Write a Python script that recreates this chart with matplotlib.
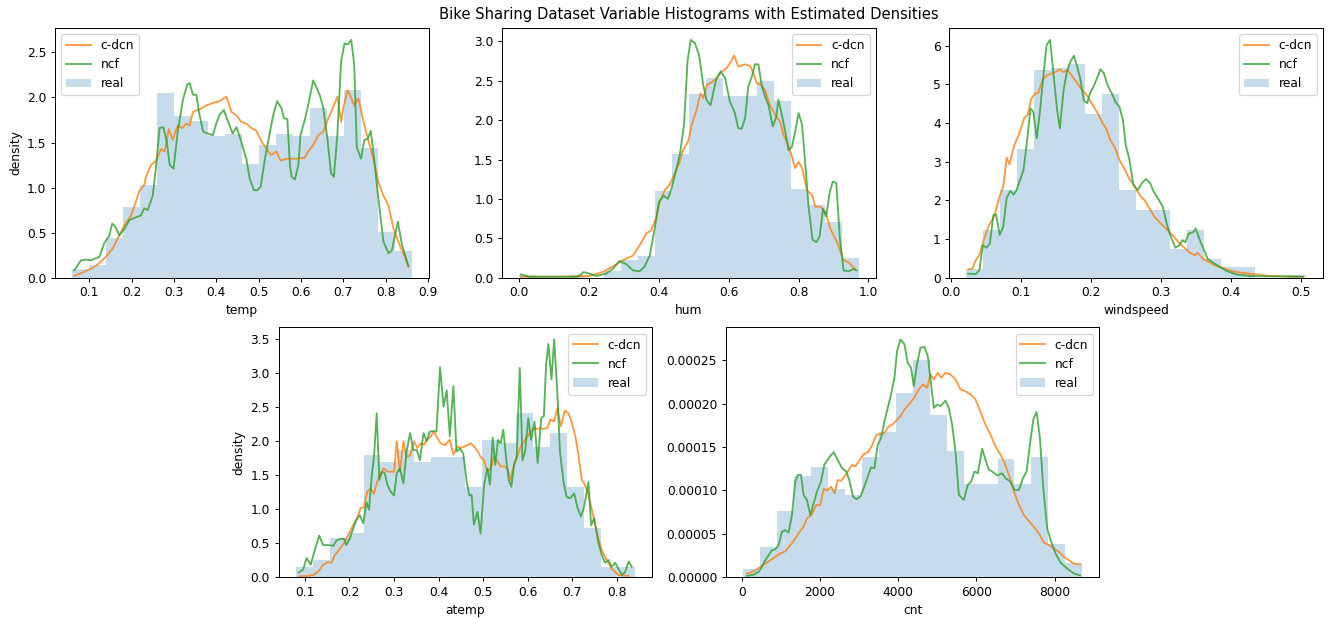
import numpy as np
import matplotlib
matplotlib.use("Agg")
import matplotlib.pyplot as plt
from matplotlib.gridspec import GridSpec

n_bins = 20

# ---- temp ----
temp_range = (0.0591, 0.8617)
temp_real = [0.10, 0.14, 0.44, 0.78, 1.03, 2.05, 1.80, 1.74, 1.57, 1.60,
             1.26, 1.47, 1.60, 1.57, 1.88, 1.57, 2.08, 1.44, 0.51, 0.30]
temp_cdcn_x = [0.0645, 0.084, 0.108, 0.124, 0.139, 0.155, 0.171, 0.183, 0.199, 0.207,
               0.218, 0.230, 0.234, 0.246, 0.258, 0.270, 0.278, 0.288, 0.297, 0.309,
               0.320, 0.329, 0.337, 0.345, 0.361, 0.376, 0.392, 0.408, 0.424, 0.436,
               0.448, 0.459, 0.471, 0.483, 0.495, 0.507, 0.523, 0.530, 0.542, 0.552,
               0.566, 0.590, 0.609, 0.617, 0.629, 0.641, 0.653, 0.665, 0.677, 0.686,
               0.695, 0.700, 0.710, 0.716, 0.726, 0.736, 0.748, 0.760, 0.771, 0.783,
               0.795, 0.807, 0.819, 0.835, 0.844, 0.854]
temp_cdcn_y = [0.02, 0.055, 0.107, 0.16, 0.23, 0.32, 0.47, 0.58, 0.69, 0.80,
               0.96, 1.03, 1.12, 1.25, 1.30, 1.43, 1.40, 1.65, 1.53, 1.69,
               1.66, 1.71, 1.69, 1.84, 1.87, 1.91, 1.94, 1.96, 2.01, 1.84,
               1.80, 1.73, 1.71, 1.66, 1.63, 1.51, 1.40, 1.36, 1.40, 1.30,
               1.32, 1.32, 1.33, 1.40, 1.47, 1.58, 1.62, 1.77, 1.90, 2.01,
               1.73, 1.88, 2.08, 2.03, 1.91, 1.99, 1.73, 1.51, 1.32, 1.06,
               0.91, 0.80, 0.54, 0.34, 0.25, 0.12]
temp_ncf_x = [0.0645, 0.080, 0.092, 0.104, 0.112, 0.124, 0.136, 0.147, 0.154, 0.162,
              0.171, 0.183, 0.195, 0.211, 0.222, 0.230, 0.238, 0.250, 0.258, 0.266,
              0.275, 0.283, 0.290, 0.299, 0.309, 0.321, 0.331, 0.337, 0.345, 0.353,
              0.359, 0.369, 0.392, 0.400, 0.408, 0.418, 0.428, 0.439, 0.448, 0.459,
              0.471, 0.479, 0.489, 0.497, 0.505, 0.515, 0.527, 0.534, 0.544, 0.554,
              0.560, 0.568, 0.574, 0.578, 0.586, 0.594, 0.599, 0.609, 0.617, 0.629,
              0.636, 0.645, 0.653, 0.663, 0.671, 0.678, 0.686, 0.695, 0.703, 0.711,
              0.719, 0.726, 0.732, 0.742, 0.750, 0.758, 0.765, 0.773, 0.783, 0.795,
              0.807, 0.815, 0.829, 0.839, 0.854]
temp_ncf_y = [0.08, 0.19, 0.20, 0.19, 0.21, 0.23, 0.39, 0.46, 0.60, 0.56,
              0.47, 0.54, 0.64, 0.67, 0.69, 0.77, 0.75, 0.91, 1.25, 1.66,
              1.67, 1.51, 1.25, 1.21, 1.62, 1.97, 2.14, 2.16, 2.03, 2.03,
              1.84, 1.62, 1.58, 1.71, 1.81, 1.86, 1.73, 1.60, 1.67, 1.51,
              1.32, 1.10, 0.97, 0.97, 1.01, 1.32, 1.62, 1.79, 1.96, 1.88,
              1.77, 1.76, 1.25, 1.12, 1.09, 1.25, 1.58, 1.75, 1.91, 2.19,
              2.12, 2.02, 1.88, 1.53, 1.16, 1.12, 1.58, 2.40, 2.60, 2.59,
              2.64, 2.36, 1.45, 1.32, 1.53, 1.54, 1.63, 1.32, 0.88, 0.40,
              0.27, 0.30, 0.62, 0.36, 0.13]

# ---- hum ----
hum_range = (0.0, 0.9725)
hum_real = [0.028, 0.0, 0.0, 0.028, 0.0, 0.084, 0.22, 0.28, 1.10, 1.57,
            2.33, 2.54, 2.31, 2.31, 2.50, 2.24, 1.12, 0.92, 0.71, 0.25]
hum_cdcn_x = [0.005, 0.105, 0.201, 0.239, 0.268, 0.297, 0.326, 0.345, 0.364, 0.378,
              0.393, 0.402, 0.417, 0.431, 0.445, 0.460, 0.469, 0.484, 0.494, 0.508,
              0.519, 0.527, 0.538, 0.551, 0.565, 0.580, 0.594, 0.603, 0.616, 0.627,
              0.647, 0.661, 0.672, 0.680, 0.692, 0.704, 0.718, 0.733, 0.747, 0.757,
              0.768, 0.781, 0.790, 0.800, 0.810, 0.824, 0.838, 0.848, 0.862, 0.876,
              0.891, 0.910, 0.929, 0.944, 0.963]
hum_cdcn_y = [0.01, 0.01, 0.02, 0.07, 0.14, 0.22, 0.28, 0.41, 0.56, 0.60,
              0.77, 0.96, 1.11, 1.18, 1.32, 1.47, 1.62, 1.73, 1.94, 2.13,
              2.34, 2.28, 2.45, 2.48, 2.53, 2.62, 2.66, 2.72, 2.82, 2.68,
              2.71, 2.69, 2.58, 2.47, 2.45, 2.38, 2.19, 2.07, 1.98, 1.81,
              1.71, 1.54, 1.39, 1.47, 1.39, 1.11, 1.05, 0.90, 0.90, 0.84,
              0.62, 0.45, 0.22, 0.19, 0.10]
hum_ncf_x = [0.005, 0.029, 0.105, 0.168, 0.185, 0.201, 0.220, 0.249, 0.268, 0.287,
             0.307, 0.326, 0.345, 0.359, 0.374, 0.388, 0.400, 0.414, 0.426, 0.436,
             0.448, 0.460, 0.472, 0.482, 0.491, 0.503, 0.515, 0.527, 0.536, 0.548,
             0.557, 0.565, 0.577, 0.590, 0.603, 0.617, 0.627, 0.637, 0.647, 0.656,
             0.666, 0.675, 0.685, 0.694, 0.704, 0.714, 0.726, 0.736, 0.742, 0.752,
             0.762, 0.771, 0.781, 0.790, 0.800, 0.810, 0.819, 0.829, 0.840, 0.851,
             0.860, 0.870, 0.879, 0.889, 0.898, 0.908, 0.918, 0.929, 0.944, 0.956,
             0.966]
hum_ncf_y = [0.04, 0.01, 0.01, 0.01, 0.07, 0.05, 0.02, 0.05, 0.11, 0.21,
             0.17, 0.09, 0.08, 0.14, 0.28, 0.62, 0.96, 1.04, 1.00, 1.13,
             1.34, 1.56, 1.94, 2.75, 3.02, 2.98, 2.83, 2.45, 2.26, 2.19,
             2.38, 2.53, 2.62, 2.53, 2.24, 2.10, 1.90, 1.89, 2.03, 2.43,
             2.55, 2.71, 2.71, 2.45, 2.30, 2.19, 1.92, 2.04, 2.26, 2.07,
             1.85, 1.62, 1.66, 1.85, 2.09, 1.94, 1.45, 0.88, 0.48, 0.45,
             0.52, 0.87, 0.78, 1.08, 1.22, 1.20, 0.50, 0.09, 0.08, 0.11,
             0.09]

# ---- windspeed ----
wind_range = (0.0224, 0.5075)
wind_real = [0.21, 1.23, 2.26, 3.32, 5.37, 5.41, 5.53, 4.23, 4.75, 2.26,
             1.74, 1.74, 0.73, 1.23, 0.49, 0.27, 0.27, 0.0, 0.0, 0.056]
wind_cdcn_x = [0.0253, 0.031, 0.036, 0.041, 0.048, 0.055, 0.062, 0.069, 0.075, 0.080,
               0.084, 0.091, 0.098, 0.105, 0.110, 0.115, 0.121, 0.125, 0.131, 0.138,
               0.148, 0.156, 0.161, 0.167, 0.174, 0.181, 0.188, 0.196, 0.203, 0.210,
               0.217, 0.222, 0.228, 0.234, 0.241, 0.248, 0.255, 0.262, 0.270, 0.277,
               0.284, 0.291, 0.298, 0.305, 0.313, 0.320, 0.327, 0.334, 0.341, 0.348,
               0.353, 0.360, 0.370, 0.379, 0.389, 0.403, 0.417, 0.437, 0.456, 0.475,
               0.503]
wind_cdcn_y = [0.21, 0.23, 0.45, 0.58, 1.01, 1.36, 1.57, 2.05, 2.35, 3.10,
               2.93, 3.43, 3.73, 4.12, 4.21, 4.62, 4.77, 4.77, 5.11, 5.24,
               5.30, 5.39, 5.31, 5.37, 5.20, 5.03, 4.85, 4.68, 4.46, 4.25,
               3.99, 3.86, 3.56, 3.39, 3.04, 2.82, 2.56, 2.39, 2.13, 2.00,
               1.79, 1.57, 1.44, 1.31, 1.17, 1.03, 0.88, 0.77, 0.65, 0.58,
               0.64, 0.49, 0.39, 0.30, 0.25, 0.16, 0.12, 0.08, 0.04, 0.03,
               0.02]
wind_ncf_x = [0.025, 0.036, 0.041, 0.046, 0.051, 0.056, 0.061, 0.065, 0.070, 0.075,
              0.080, 0.085, 0.090, 0.094, 0.099, 0.104, 0.109, 0.114, 0.118, 0.123,
              0.128, 0.133, 0.137, 0.142, 0.147, 0.152, 0.156, 0.161, 0.166, 0.171,
              0.176, 0.180, 0.185, 0.190, 0.195, 0.199, 0.204, 0.209, 0.214, 0.219,
              0.224, 0.230, 0.236, 0.241, 0.246, 0.250, 0.255, 0.261, 0.267, 0.273,
              0.279, 0.285, 0.290, 0.296, 0.303, 0.309, 0.315, 0.321, 0.327, 0.331,
              0.335, 0.340, 0.346, 0.350, 0.355, 0.361, 0.367, 0.375, 0.384, 0.394,
              0.408, 0.427, 0.451, 0.475, 0.503]
wind_ncf_y = [0.10, 0.09, 0.19, 0.84, 0.77, 0.88, 1.61, 1.63, 1.10, 1.31,
              2.06, 2.24, 2.15, 2.26, 2.52, 2.78, 3.51, 4.38, 4.29, 3.60,
              4.38, 5.33, 6.02, 6.15, 5.24, 4.34, 3.86, 4.81, 5.33, 5.59,
              5.74, 5.50, 5.16, 4.59, 4.51, 4.77, 4.94, 5.16, 5.39, 5.28,
              4.98, 4.77, 4.53, 4.42, 4.08, 3.43, 3.08, 2.39, 2.26, 2.44,
              2.55, 2.44, 2.22, 2.05, 1.83, 1.36, 1.03, 0.77, 0.84, 0.97,
              0.91, 1.14, 1.17, 1.27, 1.01, 0.75, 0.49, 0.38, 0.28, 0.17,
              0.08, 0.04, 0.03, 0.03, 0.02]

# ---- atemp ----
atemp_range = (0.0791, 0.8409)
atemp_real = [0.14, 0.25, 0.58, 0.65, 1.80, 1.70, 1.87, 1.70, 1.77, 1.77,
              1.33, 2.02, 1.98, 2.42, 1.91, 2.12, 1.33, 0.72, 0.14, 0.14]
atemp_cdcn_x = [0.087, 0.104, 0.119, 0.130, 0.141, 0.152, 0.160, 0.167, 0.179, 0.190,
                0.201, 0.208, 0.217, 0.225, 0.232, 0.240, 0.247, 0.255, 0.262, 0.270,
                0.277, 0.285, 0.292, 0.300, 0.306, 0.313, 0.321, 0.328, 0.336, 0.345,
                0.352, 0.360, 0.367, 0.374, 0.382, 0.389, 0.397, 0.404, 0.414, 0.425,
                0.433, 0.442, 0.449, 0.457, 0.464, 0.472, 0.479, 0.487, 0.494, 0.502,
                0.509, 0.517, 0.524, 0.532, 0.539, 0.547, 0.554, 0.561, 0.569, 0.576,
                0.584, 0.591, 0.599, 0.606, 0.614, 0.621, 0.629, 0.636, 0.644, 0.651,
                0.659, 0.666, 0.674, 0.683, 0.691, 0.698, 0.706, 0.713, 0.721, 0.728,
                0.736, 0.743, 0.751, 0.758, 0.766, 0.777, 0.788, 0.803, 0.826]
atemp_cdcn_y = [0.01, 0.015, 0.03, 0.08, 0.18, 0.22, 0.21, 0.32, 0.42, 0.52,
                0.67, 0.76, 0.86, 1.02, 1.02, 1.26, 1.30, 1.23, 1.40, 1.53,
                1.60, 1.55, 1.55, 1.55, 2.00, 1.55, 2.00, 1.77, 1.79, 2.00,
                1.90, 1.97, 1.95, 2.02, 2.07, 2.14, 2.05, 1.97, 1.94, 2.02,
                1.80, 1.92, 1.90, 1.92, 1.94, 1.97, 1.92, 1.86, 1.77, 1.72,
                1.55, 1.60, 1.77, 1.70, 1.63, 1.63, 1.60, 1.43, 1.65, 1.77,
                1.92, 1.99, 2.07, 2.14, 2.19, 2.18, 2.19, 2.18, 2.20, 2.32,
                2.29, 2.48, 2.22, 2.45, 2.41, 2.29, 2.09, 1.82, 1.43, 1.36,
                1.21, 1.01, 0.76, 0.57, 0.39, 0.25, 0.12, 0.03, 0.015]
atemp_ncf_x = [0.087, 0.096, 0.104, 0.113, 0.121, 0.132, 0.141, 0.152, 0.164, 0.171,
               0.180, 0.188, 0.193, 0.201, 0.208, 0.216, 0.223, 0.231, 0.238, 0.244,
               0.250, 0.255, 0.261, 0.267, 0.273, 0.279, 0.285, 0.292, 0.300, 0.306,
               0.313, 0.321, 0.328, 0.336, 0.343, 0.351, 0.358, 0.366, 0.373, 0.380,
               0.388, 0.395, 0.403, 0.411, 0.418, 0.425, 0.433, 0.440, 0.448, 0.455,
               0.463, 0.469, 0.474, 0.479, 0.487, 0.494, 0.502, 0.509, 0.515, 0.521,
               0.527, 0.533, 0.539, 0.545, 0.551, 0.557, 0.563, 0.569, 0.575, 0.582,
               0.588, 0.594, 0.601, 0.607, 0.615, 0.622, 0.630, 0.636, 0.641, 0.646,
               0.653, 0.659, 0.666, 0.672, 0.680, 0.687, 0.695, 0.704, 0.711, 0.719,
               0.726, 0.736, 0.742, 0.749, 0.757, 0.766, 0.773, 0.781, 0.788, 0.796,
               0.803, 0.811, 0.818, 0.826, 0.833]
atemp_ncf_y = [0.07, 0.11, 0.28, 0.18, 0.37, 0.61, 0.47, 0.47, 0.46, 0.54,
               0.56, 0.56, 0.47, 0.57, 0.71, 0.85, 0.91, 0.79, 1.10, 0.99,
               1.50, 1.77, 2.41, 1.43, 1.55, 1.53, 1.36, 1.26, 1.20, 1.53,
               1.60, 1.38, 1.85, 2.12, 1.87, 1.87, 1.72, 2.12, 2.00, 2.14,
               2.15, 2.14, 3.09, 2.51, 2.75, 2.07, 2.81, 1.85, 1.89, 1.82,
               1.40, 1.20, 1.21, 0.77, 0.96, 0.64, 1.36, 1.60, 1.36, 2.05,
               1.65, 2.02, 1.97, 2.17, 1.77, 1.43, 1.33, 1.65, 1.77, 3.08,
               1.72, 1.85, 2.34, 2.02, 2.29, 1.68, 2.34, 2.37, 3.13, 3.43,
               2.91, 3.50, 2.74, 1.85, 1.40, 1.18, 1.16, 1.23, 1.03, 0.89,
               1.03, 1.40, 0.76, 0.87, 0.54, 0.32, 0.21, 0.25, 0.15, 0.21,
               0.12, 0.03, 0.07, 0.23, 0.15]

# ---- cnt ----
cnt_range = (22, 8714)
cnt_real = [0.0000097, 0.0000348, 0.0000761, 0.000117, 0.000127, 0.000102, 0.0000947,
            0.000139, 0.000167, 0.000212, 0.000250, 0.000187, 0.000146, 0.000107,
            0.000107, 0.000136, 0.000107, 0.000139, 0.0000379, 0.0000158]
cnt_cdcn_x = [128, 299, 470, 640, 811, 982, 1110, 1238, 1366, 1477,
              1580, 1665, 1793, 1904, 2007, 2092, 2178, 2280, 2374, 2451,
              2536, 2622, 2707, 2818, 2904, 3015, 3117, 3220, 3331, 3442,
              3544, 3647, 3758, 3869, 3971, 4057, 4159, 4270, 4398, 4526,
              4637, 4740, 4825, 4911, 5013, 5098, 5209, 5338, 5466, 5594,
              5722, 5850, 5978, 6106, 6234, 6362, 6491, 6619, 6721, 6832,
              6960, 7088, 7216, 7344, 7473, 7601, 7729, 7857, 7985, 8113,
              8241, 8369, 8497, 8651]
cnt_cdcn_y = [3.9e-6, 6.6e-6, 1.16e-5, 1.66e-5, 2.20e-5, 2.70e-5, 2.98e-5, 3.67e-5, 4.44e-5, 5.22e-5,
              5.80e-5, 6.76e-5, 7.23e-5, 8.31e-5, 8.31e-5, 1.016e-4, 9.97e-5, 1.043e-4, 9.66e-5, 1.12e-4,
              1.109e-4, 1.159e-4, 1.217e-4, 1.294e-4, 1.275e-4, 1.352e-4, 1.418e-4, 1.437e-4, 1.519e-4, 1.642e-4,
              1.650e-4, 1.662e-4, 1.739e-4, 1.766e-4, 1.816e-4, 1.855e-4, 1.932e-4, 1.990e-4, 2.060e-4, 2.164e-4,
              2.222e-4, 2.183e-4, 2.338e-4, 2.280e-4, 2.357e-4, 2.299e-4, 2.357e-4, 2.338e-4, 2.280e-4, 2.164e-4,
              2.144e-4, 2.106e-4, 2.048e-4, 1.905e-4, 1.758e-4, 1.642e-4, 1.507e-4, 1.410e-4, 1.314e-4, 1.179e-4,
              9.85e-5, 8.31e-5, 7.15e-5, 6.45e-5, 5.80e-5, 5.02e-5, 3.98e-5, 3.67e-5, 3.28e-5, 2.90e-5,
              2.32e-5, 1.93e-5, 1.55e-5, 1.43e-5]
cnt_ncf_x = [128, 299, 427, 512, 598, 683, 769, 854, 939, 1025,
             1110, 1196, 1281, 1366, 1435, 1512, 1580, 1665, 1751, 1836,
             1921, 2024, 2109, 2220, 2348, 2451, 2562, 2673, 2759, 2844,
             2929, 3032, 3134, 3220, 3305, 3390, 3476, 3561, 3647, 3732,
             3817, 3903, 3971, 4057, 4159, 4244, 4330, 4398, 4484, 4569,
             4671, 4757, 4842, 4911, 4996, 5081, 5209, 5295, 5380, 5466,
             5551, 5679, 5782, 5867, 5952, 6038, 6149, 6234, 6320, 6405,
             6533, 6661, 6746, 6875, 6977, 7088, 7199, 7284, 7370, 7455,
             7541, 7626, 7712, 7814, 7900, 8028, 8156, 8327, 8497, 8651]
cnt_ncf_y = [1.2e-6, 2.7e-6, 5.8e-6, 1.16e-5, 1.93e-5, 2.51e-5, 3.09e-5, 3.21e-5, 3.67e-5, 5.22e-5,
             5.41e-5, 5.14e-5, 7.15e-5, 1.101e-4, 1.178e-4, 1.178e-4, 9.47e-5, 8.89e-5, 7.15e-5, 8.50e-5,
             9.85e-5, 1.101e-4, 1.294e-4, 1.372e-4, 1.441e-4, 1.352e-4, 1.256e-4, 1.217e-4, 1.101e-4, 9.27e-5,
             9.00e-5, 9.27e-5, 1.043e-4, 1.159e-4, 1.264e-4, 1.256e-4, 1.526e-4, 1.604e-4, 1.797e-4, 1.951e-4,
             2.106e-4, 2.299e-4, 2.608e-4, 2.743e-4, 2.686e-4, 2.473e-4, 2.415e-4, 2.203e-4, 2.461e-4, 2.647e-4,
             2.655e-4, 2.550e-4, 2.222e-4, 1.951e-4, 1.990e-4, 1.971e-4, 2.036e-4, 1.951e-4, 1.758e-4, 1.449e-4,
             9.47e-5, 8.89e-5, 1.063e-4, 1.101e-4, 1.217e-4, 1.198e-4, 1.480e-4, 1.352e-4, 1.236e-4, 1.217e-4,
             1.171e-4, 1.198e-4, 1.140e-4, 1.101e-4, 1.005e-4, 1.005e-4, 1.148e-4, 1.217e-4, 1.526e-4, 1.816e-4,
             1.905e-4, 1.604e-4, 1.024e-4, 5.60e-5, 4.25e-5, 2.70e-5, 1.66e-5, 9.7e-6, 3.9e-6, 1.9e-6]


def draw(ax, name, rng, real, cx, cy, nx, ny, loc, ylabel=False):
    edges = np.linspace(rng[0], rng[1], n_bins + 1)
    ax.plot(cx, cy, color="C1", alpha=0.8, lw=1.5, label="c-dcn")
    ax.plot(nx, ny, color="C2", alpha=0.8, lw=1.5, label="ncf")
    ax.hist(edges[:-1], bins=edges, weights=real, color="C0", alpha=0.25, label="real")
    ax.set_xlabel(name)
    if ylabel:
        ax.set_ylabel("density")
    ax.legend(loc=loc)


# the reference looks like it was rendered at ~88 dpi
dpi = 88.5
fig = plt.figure(figsize=(1331 / dpi, 619 / dpi), dpi=dpi)
gs = GridSpec(2, 6, figure=fig, left=55 / 1331, right=1323 / 1331,
              top=1 - 28 / 619, bottom=1 - 577 / 619, wspace=0.49, hspace=0.2)

ax1 = fig.add_subplot(gs[0, 0:2])
ax2 = fig.add_subplot(gs[0, 2:4])
ax3 = fig.add_subplot(gs[0, 4:6])
ax4 = fig.add_subplot(gs[1, 1:3])
ax5 = fig.add_subplot(gs[1, 3:5])

draw(ax1, "temp", temp_range, temp_real, temp_cdcn_x, temp_cdcn_y, temp_ncf_x, temp_ncf_y, "upper left", True)
draw(ax2, "hum", hum_range, hum_real, hum_cdcn_x, hum_cdcn_y, hum_ncf_x, hum_ncf_y, "upper right")
draw(ax3, "windspeed", wind_range, wind_real, wind_cdcn_x, wind_cdcn_y, wind_ncf_x, wind_ncf_y, "upper right")
draw(ax4, "atemp", atemp_range, atemp_real, atemp_cdcn_x, atemp_cdcn_y, atemp_ncf_x, atemp_ncf_y, "upper right", True)
draw(ax5, "cnt", cnt_range, cnt_real, cnt_cdcn_x, cnt_cdcn_y, cnt_ncf_x, cnt_ncf_y, "upper right")

fig.suptitle("Bike Sharing Dataset Variable Histograms with Estimated Densities",
             x=689 / 1331, y=1 - 15 / 619, va="center")

fig.savefig("out.png", dpi=dpi)
